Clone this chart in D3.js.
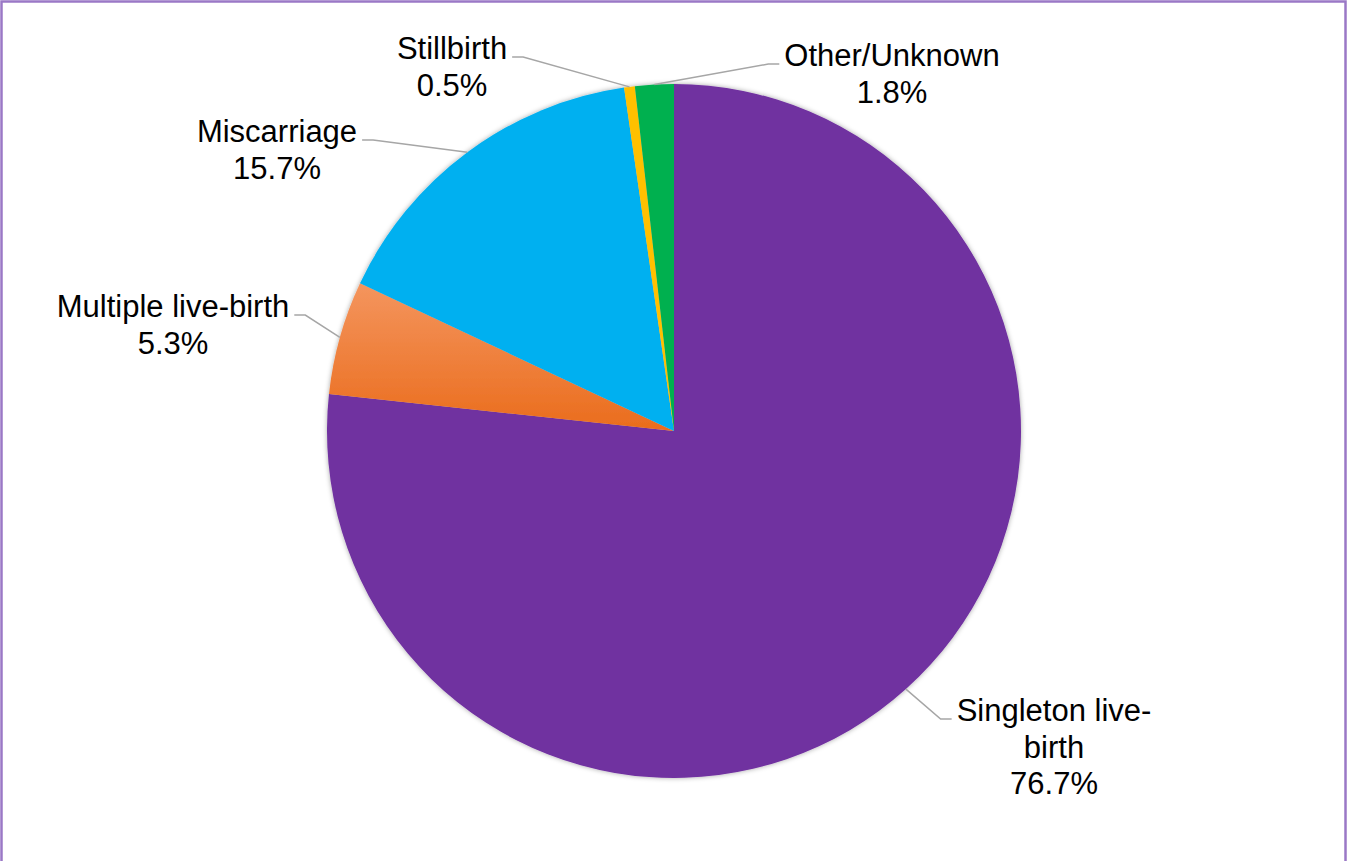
<!DOCTYPE html>
<html>
<head>
<meta charset="utf-8">
<script src="https://cdn.jsdelivr.net/npm/d3@7"></script>
<style>
  html, body { margin: 0; padding: 0; background: #fff; }
  svg { display: block; }
</style>
</head>
<body>
<div id="chart"></div>
<script>
// data
const categories = ["Singleton live-birth", "Multiple live-birth", "Miscarriage", "Stillbirth", "Other/Unknown"]
const percents = [76.7, 5.3, 15.7, 0.5, 1.8]
const labelLines = [["Singleton live-", "birth"], ["Multiple live-birth"], ["Miscarriage"], ["Stillbirth"], ["Other/Unknown"]]

// layout / styles
const colors = ["#7030A0", "url(#orangeGrad)", "#00B0F0", "#FFC000", "#00B050"]
// label block: centre x and first baseline, relative to pie centre
const labelOffsets = [[380, 290], [-501, -114], [-397, -289], [-222, -372], [218, -365]]

const width = 1347
const height = 861
const cx = 674
const cy = 431
const radius = 347
const fontSize = 31
const lineGap = 36.5

const svg = d3.select("#chart")
  .append("svg")
  .attr("width", width)
  .attr("height", height)
  .attr("viewBox", [0, 0, width, height])

const defs = svg.append("defs")

const grad = defs.append("linearGradient")
  .attr("id", "orangeGrad")
  .attr("x1", 0).attr("y1", 0).attr("x2", 0).attr("y2", 1)
grad.append("stop").attr("offset", "0%").attr("stop-color", "#F4955E")
grad.append("stop").attr("offset", "100%").attr("stop-color", "#EA6C1C")

const shadow = defs.append("filter")
  .attr("id", "pieShadow")
  .attr("x", "-10%").attr("y", "-10%").attr("width", "120%").attr("height", "120%")
shadow.append("feDropShadow")
  .attr("dx", 0).attr("dy", 0)
  .attr("stdDeviation", 2.5)
  .attr("flood-color", "#000")
  .attr("flood-opacity", 0.35)

// frame (bottom edge is cut off in the original)
svg.append("rect")
  .attr("x", 1.5).attr("y", 1.5)
  .attr("width", width - 3).attr("height", height + 10)
  .attr("fill", "none")
  .attr("stroke", "#9A78C6")
  .attr("stroke-width", 2.5)

const pie = d3.pie().sort(null).value(d => d)
const arcs = pie(percents)
const arc = d3.arc().innerRadius(0).outerRadius(radius)

const g = svg.append("g").attr("transform", `translate(${cx},${cy})`)

g.append("g")
  .attr("filter", "url(#pieShadow)")
  .selectAll("path")
  .data(arcs)
  .join("path")
  .attr("d", arc)
  .attr("fill", (d, i) => colors[i])

const fmt = d => d3.format(".1f")(d) + "%"

const labels = g.append("g")
  .selectAll("text")
  .data(arcs)
  .join("text")
  .attr("text-anchor", "middle")
  .attr("font-family", "'Liberation Sans', Arial, sans-serif")
  .attr("font-size", fontSize)
  .attr("fill", "#000")

labels.each(function (d, i) {
  const t = d3.select(this)
  const [ox, oy] = labelOffsets[i]
  const lines = labelLines[i].concat([fmt(d.value)])
  lines.forEach((s, j) => {
    t.append("tspan")
      .attr("x", ox)
      .attr("y", oy + j * lineGap)
      .text(s)
  })
})

const leaders = []
labels.each(function (d, i) {
  const first = this.querySelector("tspan")
  const w = first.getComputedTextLength()
  const [ox, oy] = labelOffsets[i]
  const right = ox > 0
  const mid = (d.startAngle + d.endAngle) / 2
  const edge = [radius * Math.sin(mid), -radius * Math.cos(mid)]
  const endX = right ? ox - w / 2 - 5 : ox + w / 2 + 5
  const y = oy - 2
  const bendX = right ? endX - 11 : endX + 11
  leaders.push([edge, [bendX, y], [endX, y]])
})

g.insert("g", "g + g")
  .selectAll("path")
  .data(leaders)
  .join("path")
  .attr("d", d => d3.line()(d))
  .attr("fill", "none")
  .attr("stroke", "#A6A6A6")
  .attr("stroke-width", 1.5)
</script>
</body>
</html>
